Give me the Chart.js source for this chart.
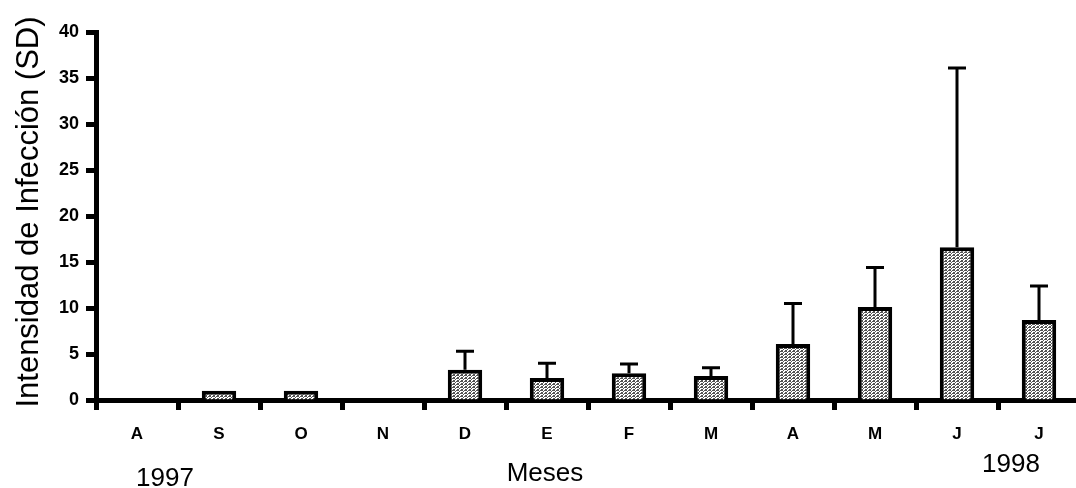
<!DOCTYPE html>
<html>
<head>
<meta charset="utf-8">
<script src="https://cdn.jsdelivr.net/npm/chart.js@4"></script>
<style>
  html, body { margin: 0; padding: 0; background: #fff; overflow: hidden; }
  #wrap { position: relative; width: 1080px; height: 488px; }
</style>
</head>
<body>
<div id="wrap"><canvas id="barChart"></canvas></div>
<script>
// Meses (ago 1997 - jul 1998)
const months = ['A', 'S', 'O', 'N', 'D', 'E', 'F', 'M', 'A', 'M', 'J', 'J'];
// Intensidad media de infección
const means = [0, 1.0, 1.0, 0, 3.3, 2.4, 2.9, 2.6, 6.1, 10.1, 16.6, 8.7];
// Desviación estándar (solo barra superior)
const sds = [0, 0, 0, 0, 2.0, 1.6, 1.0, 0.9, 4.4, 4.3, 19.5, 3.7];
// Eje Y
const yMin = 0, yMax = 40, yStep = 5;

const FONT = '"Liberation Sans", Arial, sans-serif';

// Relleno punteado de las barras
function stipple() {
    const c = document.createElement('canvas');
    c.width = 4; c.height = 3;
    const g = c.getContext('2d');
    g.fillStyle = '#ffffff';
    g.fillRect(0, 0, 4, 3);
    g.fillStyle = '#555555';
    g.fillRect(0, 0, 3, 1);
    g.fillRect(1, 2, 2, 1);
    g.fillRect(3, 1, 1, 1);
    return g.createPattern(c, 'repeat');
}

// Barras de error
const errorBars = {
    id: 'errorBars',
    afterDatasetsDraw(chart) {
        const ctx = chart.ctx;
        const y = chart.scales.y;
        const meta = chart.getDatasetMeta(0);
        ctx.save();
        ctx.strokeStyle = '#000';
        ctx.lineWidth = 3;
        meta.data.forEach((bar, i) => {
            if (!sds[i]) return;
            const top = y.getPixelForValue(means[i] + sds[i]);
            ctx.beginPath();
            ctx.moveTo(bar.x, bar.y);
            ctx.lineTo(bar.x, top);
            ctx.moveTo(bar.x - 9, top);
            ctx.lineTo(bar.x + 9, top);
            ctx.stroke();
        });
        ctx.restore();
    }
};

// Títulos y años
const labelsPlugin = {
    id: 'labelsPlugin',
    afterDraw(chart) {
        const ctx = chart.ctx;
        ctx.save();
        ctx.fillStyle = '#000';
        ctx.textAlign = 'center';
        ctx.textBaseline = 'middle';
        ctx.font = '31px ' + FONT;
        ctx.translate(29, 212);
        ctx.rotate(-Math.PI / 2);
        ctx.fillText('Intensidad de Infección (SD)', 0, 0);
        ctx.restore();

        ctx.save();
        ctx.fillStyle = '#000';
        ctx.textAlign = 'center';
        ctx.textBaseline = 'alphabetic';
        ctx.font = '26px ' + FONT;
        ctx.fillText('Meses', 545, 481);
        ctx.fillText('1997', 165, 486);
        ctx.fillText('1998', 1011, 472);
        ctx.restore();
    }
};

const ctx = document.getElementById('barChart').getContext('2d');
const barChart = new Chart(ctx, {
    type: 'bar',
    data: {
        labels: months,
        datasets: [{
            data: means,
            backgroundColor: stipple(),
            borderColor: '#000',
            borderWidth: 4,
            borderSkipped: 'bottom',
            barPercentage: 0.42,
            categoryPercentage: 1.0
        }]
    },
    options: {
        responsive: true,
        maintainAspectRatio: false,
        animation: false,
        layout: { padding: { top: 32, right: 0, bottom: 0, left: 0 } },
        plugins: {
            legend: { display: false },
            tooltip: { enabled: false }
        },
        scales: {
            x: {
                afterFit(scale) { scale.height = 88; },
                border: { display: true, color: '#000', width: 5 },
                grid: {
                    drawOnChartArea: false,
                    drawTicks: true,
                    tickLength: 10,
                    tickWidth: 5,
                    tickColor: '#000'
                },
                ticks: {
                    color: '#000',
                    padding: 14,
                    font: { family: FONT, size: 17, weight: 'bold' }
                }
            },
            y: {
                min: yMin,
                max: yMax,
                afterFit(scale) { scale.width = 96; },
                border: { display: true, color: '#000', width: 5 },
                grid: {
                    drawOnChartArea: false,
                    drawTicks: true,
                    tickLength: 10,
                    tickWidth: 5,
                    tickColor: '#000'
                },
                ticks: {
                    stepSize: yStep,
                    color: '#000',
                    padding: 7,
                    font: { family: FONT, size: 18, weight: 'bold' }
                }
            }
        }
    },
    plugins: [errorBars, labelsPlugin]
});
</script>
</body>
</html>
